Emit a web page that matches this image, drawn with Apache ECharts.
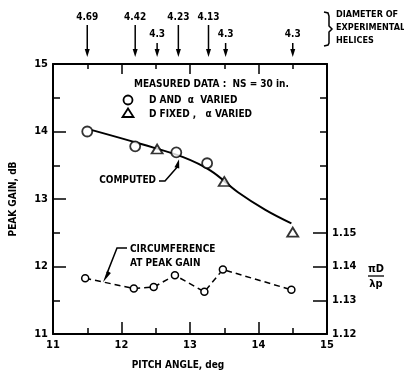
<!DOCTYPE html>
<html><head><meta charset="utf-8">
<script src="https://cdn.jsdelivr.net/npm/echarts@6/dist/echarts.min.js"></script>
<style>html,body{margin:0;padding:0;background:#fff}#c{width:404px;height:375px}</style>
</head><body><div id="c"></div>
<script>
const FONT = '"Liberation Sans Narrow","DejaVu Sans Condensed",sans-serif';
// Pitch angle (deg) and peak gain (dB)
const computedAngle = [11.57, 12.3, 12.9, 13.3, 13.7, 14.1, 14.48];
const computedGain  = [14.02, 13.81, 13.62, 13.42, 13.1, 12.84, 12.64];
const circleAngle = [11.5, 12.2, 12.8, 13.25];
const circleGain  = [14.0, 13.78, 13.69, 13.53];
const triAngle = [12.52, 13.5, 14.5];
const triGain  = [13.74, 13.26, 12.51];
// circumference at peak gain (piD / lambda_p)
const circAngle = [11.47, 12.18, 12.47, 12.78, 13.21, 13.48, 14.48];
const circRatio = [1.1365, 1.1335, 1.1339, 1.1374, 1.1325, 1.1391, 1.1331];
// diameters of experimental helices
const diaAngle = [11.5, 12.2, 12.52, 12.83, 13.27, 13.52, 14.5];
const diaLabel = ['4.69', '4.42', '4.3', '4.23', '4.13', '4.3', '4.3'];
const ratioLabels = ['1.12', '1.13', '1.14', '1.15'];
const ratioUpperTicks = [1.16, 1.17, 1.18, 1.19];

const zip = (a, b) => a.map((v, i) => [v, b[i]]);
const chart = echarts.init(document.getElementById('c'), null, {renderer: 'canvas'});
const axisLine = {show: true, lineStyle: {color: '#000', width: 2}};
const lbl = {color: '#000', fontFamily: FONT, fontSize: 11, fontWeight: 'bold'};

chart.setOption({
  animation: false,
  backgroundColor: '#fff',
  grid: {left: 49, right: 77, top: 64, bottom: 41},
  xAxis: [{
    type: 'value', min: 11, max: 15, interval: 1, position: 'bottom',
    axisLine, splitLine: {show: false},
    axisTick: {show: true, inside: true, length: 12, lineStyle: {color: '#000', width: 1.5}},
    minorTick: {show: true, splitNumber: 2, length: 6, lineStyle: {color: '#000', width: 1.5}},
    axisLabel: Object.assign({margin: 6}, lbl)
  }, {
    type: 'value', min: 11, max: 15, interval: 1, position: 'top',
    axisLine, splitLine: {show: false},
    axisTick: {show: true, inside: true, length: 10, lineStyle: {color: '#000', width: 1.5}},
    minorTick: {show: true, splitNumber: 2, length: 5, lineStyle: {color: '#000', width: 1.5}},
    axisLabel: {show: false}
  }],
  yAxis: [{
    type: 'value', min: 11, max: 15, interval: 1, position: 'left',
    axisLine, splitLine: {show: false},
    axisTick: {show: true, inside: true, length: 13, lineStyle: {color: '#000', width: 1.5}},
    minorTick: {show: true, splitNumber: 2, length: 7, lineStyle: {color: '#000', width: 1.5}},
    axisLabel: Object.assign({margin: 5}, lbl),
    name: 'PEAK GAIN, dB', nameLocation: 'middle', nameGap: 35, nameRotate: 90,
    nameTextStyle: {color: '#000', fontFamily: FONT, fontSize: 10, fontWeight: 'bold'}
  }, {
    type: 'value', min: 1.12, max: 1.20, interval: 0.01, position: 'right',
    axisLine, splitLine: {show: false},
    axisTick: {show: true, inside: true, length: 14, customValues: ratioLabels.map(Number), lineStyle: {color: '#000', width: 1.5}},
    axisLabel: Object.assign({margin: 5, customValues: ratioLabels.map(Number),
      formatter: v => { const s = v.toFixed(2); return ratioLabels.indexOf(s) >= 0 ? s : ''; }}, lbl)
  }, {
    type: 'value', min: 1.12, max: 1.20, interval: 0.01, position: 'right',
    axisLine: {show: false}, splitLine: {show: false},
    axisTick: {show: true, inside: true, length: 7, customValues: ratioUpperTicks, lineStyle: {color: '#000', width: 1.5}},
    axisLabel: {show: false}
  }],
  series: [{
    type: 'line', name: 'computed', xAxisIndex: 0, yAxisIndex: 0,
    data: zip(computedAngle, computedGain), smooth: 0.4, showSymbol: false, symbol: 'none',
    lineStyle: {color: '#000', width: 2}, z: 2
  }, {
    type: 'scatter', name: 'D and alpha varied', xAxisIndex: 0, yAxisIndex: 0,
    data: zip(circleAngle, circleGain), symbol: 'circle', symbolSize: 10,
    itemStyle: {color: '#fff', borderColor: '#000', borderWidth: 1.8}, z: 3
  }, {
    type: 'scatter', name: 'D fixed, alpha varied', xAxisIndex: 0, yAxisIndex: 0,
    data: zip(triAngle, triGain), symbol: 'triangle', symbolSize: [11, 9],
    itemStyle: {color: '#fff', borderColor: '#000', borderWidth: 1.8}, z: 3
  }, {
    type: 'line', name: 'circumference', xAxisIndex: 0, yAxisIndex: 1,
    data: zip(circAngle, circRatio), symbol: 'circle', symbolSize: 7, showSymbol: true,
    lineStyle: {color: '#000', width: 1.5, type: [6, 4]},
    itemStyle: {color: '#fff', borderColor: '#000', borderWidth: 1.5}, z: 3
  }]
});

// annotations
const g = [];
const txt = (x, y, s, o) => g.push({type: 'text', x, y, z: 10, style: Object.assign({text: s, fill: '#000', font: 'bold 10px ' + FONT, textVerticalAlign: 'middle'}, o || {})});
const line = (pts, w) => g.push({type: 'polyline', z: 10, shape: {points: pts}, style: {stroke: '#000', lineWidth: w || 1.5, fill: null}});
const head = (tip, dx, dy, len, half) => {
  const n = Math.hypot(dx, dy); const ux = dx / n, uy = dy / n;
  const bx = tip[0] - ux * len, by = tip[1] - uy * len;
  g.push({type: 'polygon', z: 10, shape: {points: [tip, [bx - uy * half, by + ux * half], [bx + uy * half, by - ux * half]]}, style: {fill: '#000'}});
};
const topY = chart.convertToPixel({xAxisIndex: 0, yAxisIndex: 0}, [11, 15])[1];
diaAngle.forEach((a, i) => {
  const x = chart.convertToPixel({xAxisIndex: 0, yAxisIndex: 0}, [a, 15])[0];
  const low = diaLabel[i] === '4.3';
  const ly = low ? 34 : 17;
  txt(x, ly, diaLabel[i], {textAlign: 'center'});
  const tip = [x, topY - 7];
  line([[x, low ? 43 : 25], [x, tip[1] - 5]], 1.5);
  head(tip, 0, 1, 8, 2.5);
});
// brace + title
line([[324, 12], [328, 13], [329, 16], [329, 26], [332, 29], [329, 32], [329, 43], [328, 45], [324, 46]], 1.5);
const small = {font: 'bold 9px ' + FONT};
txt(336, 15, 'DIAMETER OF', small);
txt(336, 28, 'EXPERIMENTAL', small);
txt(336, 41, 'HELICES', small);
// legend text
txt(134, 84, 'MEASURED DATA :  NS = 30 in.');
g.push({type: 'circle', z: 10, shape: {cx: 128, cy: 100, r: 4.5}, style: {fill: '#fff', stroke: '#000', lineWidth: 1.8}});
txt(149, 100, 'D AND  \u03b1  VARIED');
g.push({type: 'polygon', z: 10, shape: {points: [[128, 108.5], [122.5, 117], [133.5, 117]]}, style: {fill: '#fff', stroke: '#000', lineWidth: 1.8}});
txt(149, 114, 'D FIXED ,   \u03b1 VARIED');
// computed label
const cTip = chart.convertToPixel({xAxisIndex: 0, yAxisIndex: 0}, [12.84, 13.59]);
txt(156, 180, 'COMPUTED', {textAlign: 'right'});
line([[159, 181], [165, 181], [cTip[0] - 2, cTip[1] + 8]], 1.5);
head(cTip, 2, -8, 9, 2.5);
// circumference label
const kTip = chart.convertToPixel({xAxisIndex: 0, yAxisIndex: 1}, [11.73, 1.1353]);
txt(130, 249, 'CIRCUMFERENCE');
txt(130, 263, 'AT PEAK GAIN');
line([[127, 248], [117, 248], [kTip[0] + 4, kTip[1] - 9]], 1.5);
head(kTip, -19, 33, 12, 2.2);
// x axis title
txt(178, 365, 'PITCH ANGLE, deg', {textAlign: 'center'});
// right axis title
txt(376, 269, '\u03c0D', {textAlign: 'center', font: 'bold 11px ' + FONT});
line([[368, 276], [384, 276]], 1.3);
txt(376, 284, '\u03bbp', {textAlign: 'center', font: 'bold 11px ' + FONT});
chart.setOption({graphic: g});
</script></body></html>
